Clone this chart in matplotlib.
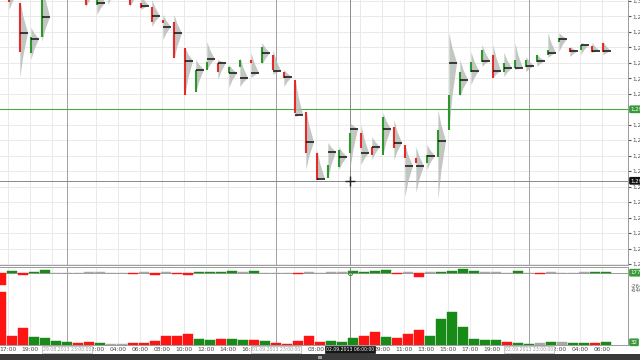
import matplotlib
matplotlib.use("Agg")
import matplotlib.pyplot as plt
from matplotlib.patches import Polygon, Rectangle
from matplotlib.transforms import blended_transform_factory

# hourly bars, slot 0 = 29.08 16:00 ... slot 55 = 03.09 06:00
opens = [1.30132, 1.30068, 1.29993, 1.29832, 1.29883, 1.30035, 1.30084, 1.30116,
         1.30051, 1.29987, 1.30019, 1.30035, 1.30068, 1.29993, 1.29980, 1.29938,
         1.29932, 1.29848, 1.29706, 1.29777, 1.29800, 1.29767, 1.29787, 1.29809,
         1.29800, 1.29825, 1.29770, 1.29745, 1.29641, 1.29509, 1.29428, 1.29464,
         1.29509, 1.29573, 1.29528, 1.29502, 1.29593, 1.29535, 1.29493, 1.29477,
         1.29496, 1.29583, 1.29696, 1.29770, 1.29803, 1.29825, 1.29770, 1.29783,
         1.29787, 1.29803, 1.29825, 1.29867, 1.29848, 1.29841, 1.29854, 1.29864]
closes = [1.30035, 1.29997, 1.29835, 1.29883, 1.30029, 1.30084, 1.30116, 1.30068,
          1.29987, 1.30035, 1.30035, 1.30051, 1.29987, 1.29977, 1.29932, 1.29929,
          1.29816, 1.29696, 1.29777, 1.29803, 1.29770, 1.29787, 1.29809, 1.29800,
          1.29851, 1.29777, 1.29751, 1.29638, 1.29509, 1.29422, 1.29470, 1.29518,
          1.29573, 1.29525, 1.29502, 1.29625, 1.29525, 1.29493, 1.29477, 1.29502,
          1.29583, 1.29696, 1.29770, 1.29803, 1.29841, 1.29751, 1.29800, 1.29809,
          1.29809, 1.29825, 1.29841, 1.29880, 1.29835, 1.29858, 1.29835, 1.29835]
highs = [1.30148, 1.30084, 1.30003, 1.29913, 1.30068, 1.30116, 1.30148, 1.30132,
         1.30068, 1.30068, 1.30051, 1.30084, 1.30084, 1.30019, 1.30003, 1.29955,
         1.29955, 1.29848, 1.29809, 1.29867, 1.29809, 1.29793, 1.29816, 1.29832,
         1.29864, 1.29841, 1.29777, 1.29751, 1.29648, 1.29518, 1.29541, 1.29528,
         1.29606, 1.29599, 1.29560, 1.29638, 1.29615, 1.29535, 1.29528, 1.29535,
         1.29648, 1.29896, 1.29809, 1.29835, 1.29858, 1.29858, 1.29832, 1.29864,
         1.29819, 1.29825, 1.29896, 1.29896, 1.29851, 1.29864, 1.29864, 1.29867]
lows = [1.29993, 1.29971, 1.29751, 1.29809, 1.29867, 1.30019, 1.30068, 1.30035,
        1.29980, 1.29955, 1.29987, 1.30019, 1.29980, 1.29971, 1.29916, 1.29874,
        1.29809, 1.29696, 1.29706, 1.29777, 1.29745, 1.29719, 1.29722, 1.29751,
        1.29793, 1.29761, 1.29722, 1.29625, 1.29454, 1.29422, 1.29428, 1.29454,
        1.29454, 1.29470, 1.29486, 1.29502, 1.29486, 1.29367, 1.29380, 1.29454,
        1.29357, 1.29583, 1.29690, 1.29728, 1.29787, 1.29751, 1.29754, 1.29777,
        1.29770, 1.29787, 1.29816, 1.29835, 1.29819, 1.29825, 1.29832, 1.29825]
pocs = [1.30068, 1.30019, 1.29896, 1.29877, 1.29948, 1.30068, 1.30100, 1.30084,
        1.30019, 1.29993, 1.30029, 1.30042, 1.30019, 1.29984, 1.29951, 1.29916,
        1.29896, 1.29806, 1.29777, 1.29812, 1.29800, 1.29767, 1.29751, 1.29767,
        1.29832, 1.29774, 1.29754, 1.29632, 1.29544, 1.29425, 1.29512, 1.29496,
        1.29586, 1.29509, 1.29528, 1.29586, 1.29541, 1.29467, 1.29467, 1.29499,
        1.29548, 1.29800, 1.29745, 1.29774, 1.29806, 1.29774, 1.29783, 1.29783,
        1.29790, 1.29806, 1.29832, 1.29877, 1.29838, 1.29858, 1.29838, 1.29838]

volume = [620, 107, 201, 95, 83, 47, 36, 24, 32, 27, 15, 15, 20, 24, 51, 110,
          110, 127, 75, 63, 71, 75, 59, 59, 51, 24, 15, 51, 103, 39, 47, 32,
          79, 110, 150, 91, 79, 134, 178, 110, 308, 391, 210, 75, 56, 59, 39, 27,
          15, 20, 36, 36, 24, 24, 24, 32]
vol_side = list("rrrggggrrg" "nnrrrrrrgg" "rggrgrrrrr" "gggrrgrrrg" "ggggggrggn" "gnggrg")
delta = [-228, 37, -43, 18, 50, -5, -5, -5, 5, 5, -3, -3, -18, 8, -43, 8,
         -25, -43, 18, 18, 18, 31, 5, 31, 3, -4, 3, -25, 4, 3, 4, 4,
         37, 18, 28, 55, -25, 8, -87, 5, 18, 37, 61, 37, 4, 4, 3, 25,
         3, -15, 8, 3, 3, 5, 20, 20]

# two-hourly time ticks (empty label = hidden under a date box)
tick_pos = [1, 3, 5, 9, 11, 13, 15, 17, 19, 21, 23, 27, 29, 31, 33, 35, 37, 39,
            41, 43, 45, 47, 51, 53, 55]
tick_lab = ["17:00", "19:00", "", "02:00", "04:00", "06:00", "08:00", "10:00",
            "12:00", "14:00", "16:00", "", "03:00", "", "", "09:00",
            "11:00", "13:00", "15:00", "17:00", "19:00", "", "02:00", "04:00",
            "06:00"]
day_pos = [6, 25, 48]
day_lab = ["29.08.2013 23:00:00", "01.09.2013 23:00:00", "02.09.2013 23:00:00"]
grid_prices = [1.3000 - 0.0005 * i for i in range(18)]
last_price = 1.29650
cursor_k, cursor_price = 32.1, 1.29419

RED, GREEN, GREY = "#e52a2a", "#2b962b", "#a8a8a8"
VRED, VGREEN = "#ff1414", "#178a17"

fig = plt.figure(figsize=(6.4, 3.6), dpi=100)
fig.patch.set_facecolor("white")
W = 628 / 640
ax = fig.add_axes([0, 1 - 265 / 360, W, 265 / 360])
axd = fig.add_axes([0, 1 - 290.7 / 360, W, 24 / 360])
axv = fig.add_axes([0, 1 - 345 / 360, W, 54.3 / 360])

xlim = (0.27, 57.36)
for a in (ax, axd, axv):
    a.set_xlim(*xlim)
    a.set_xticks(tick_pos)
    a.grid(True, axis="x", color="#e6e6e6", lw=0.6)
    a.set_axisbelow(True)
    for s in ("left", "top"):
        a.spines[s].set_visible(False)
    for s in ("right", "bottom"):
        a.spines[s].set_color("#9a9a9a")
        a.spines[s].set_linewidth(0.7)
    for d in day_pos:
        a.axvline(d + 0.36, color="#a0a0a0", lw=0.7, zorder=1)
    a.axvline(cursor_k, color="#8a8a8a", lw=0.7, zorder=1)
    a.tick_params(axis="x", length=0, labelbottom=False)

# price panel
ax.set_ylim(1.29147, 1.30003)
ax.yaxis.tick_right()
ax.set_yticks(grid_prices)
ax.set_yticklabels([f"{p:.4f}".replace(".", ",") for p in grid_prices])
ax.tick_params(axis="y", length=2, pad=1.5, labelsize=4.2, colors="#555555")
ax.grid(True, axis="y", color="#e6e6e6", lw=0.6)

pw = 0.7
for k in range(len(opens)):
    x0 = k + 0.12
    h, l, p = highs[k], lows[k], pocs[k]
    prof = Polygon([(x0, h), (x0 + pw * 0.4, (h + p) / 2), (x0 + pw, p),
                    (x0 + pw * 0.4, (p + l) / 2), (x0, l)],
                   closed=True, fc="#b3b9b3", ec="none", alpha=0.8, zorder=3)
    ax.add_patch(prof)
    col = GREEN if closes[k] >= opens[k] else RED
    ax.vlines(k + 0.05, opens[k], closes[k], color=col, lw=1.5, zorder=4)
    ax.hlines(p, x0, x0 + pw * 0.95, color="#111111", lw=1.1, zorder=5)

ax.axhline(last_price, color="#4aa84a", lw=0.8, zorder=2)
ax.axhline(cursor_price, color="#8a8a8a", lw=0.7, zorder=2)
ax.plot(cursor_k, cursor_price, marker="+", color="#222222", ms=7, mew=1.0, zorder=6)

tr = blended_transform_factory(ax.transAxes, ax.transData)
ax.text(1.004, last_price, f"{last_price:.4f}".replace(".", ","), transform=tr,
        fontsize=4, color="white", va="center", ha="left", clip_on=False, zorder=10,
        bbox=dict(boxstyle="round,pad=0.25", fc="#3a9a3a", ec="none"))
ax.text(1.004, cursor_price, f"{cursor_price:.4f}".replace(".", ","), transform=tr,
        fontsize=4, color="white", va="center", ha="left", clip_on=False, zorder=10,
        bbox=dict(boxstyle="round,pad=0.25", fc="#111111", ec="none"))

# delta panel
axd.set_ylim(-333, 111)
axd.set_yticks([])
axd.spines["top"].set_visible(True)
axd.spines["top"].set_color("#9a9a9a")
axd.spines["top"].set_linewidth(0.7)
axd.axhline(0, color="#9a9a9a", lw=0.7, zorder=1)
dcol = [GREY if abs(d) < 10 else (VGREEN if d > 0 else VRED) for d in delta]
axd.bar([k + 0.36 for k in range(len(delta))], delta, width=0.9, color=dcol,
        edgecolor=dcol, lw=0.3, zorder=3)
axd.plot(cursor_k, 0, "o", mfc="none", mec="#2b962b", ms=3, mew=0.7, zorder=5)
trd = blended_transform_factory(axd.transAxes, axd.transData)
axd.text(1.004, 0, "177", transform=trd, fontsize=4, color="white", va="center",
         ha="left", clip_on=False, zorder=10,
         bbox=dict(boxstyle="round,pad=0.25", fc="#3a9a3a", ec="none"))
axd.text(1.004, -264, "-264", transform=trd, fontsize=4, color="#555555",
         va="center", ha="left", clip_on=False)

# volume panel
axv.set_ylim(0, 640)
axv.set_yticks([])
vcol = [{"r": VRED, "g": VGREEN, "n": GREY}[s] for s in vol_side]
axv.bar([k + 0.36 for k in range(len(volume))], volume, width=0.9, color=vcol,
        edgecolor=vcol, lw=0.3, zorder=3)
axv.set_xticklabels(tick_lab)
axv.tick_params(axis="x", length=0, labelbottom=True, labelsize=4.3,
                colors="#444444", pad=1.5)
trv = blended_transform_factory(axv.transAxes, axv.transData)
axv.text(1.004, 640, "-640", transform=trv, fontsize=4, color="#555555",
         va="center", ha="left", clip_on=False)
axv.text(1.004, volume[-1], str(volume[-1]), transform=trv, fontsize=4, color="white",
         va="center", ha="left", clip_on=False, zorder=10,
         bbox=dict(boxstyle="round,pad=0.25", fc="#3a9a3a", ec="none"))

trx = blended_transform_factory(axv.transData, axv.transAxes)
for d, s in zip(day_pos, day_lab):
    axv.text(d + 0.36, -0.08, s, transform=trx, fontsize=3.3, color="#9a9a9a",
             ha="center", va="center", clip_on=False, zorder=10,
             bbox=dict(boxstyle="square,pad=0.15", fc="white", ec="#b0b0b0", lw=0.5))
axv.text(cursor_k, -0.08, "02.09.2013 06:00:00", transform=trx, fontsize=3.3,
         color="white", ha="center", va="center", clip_on=False, zorder=10,
         bbox=dict(boxstyle="square,pad=0.15", fc="#151515", ec="#151515", lw=0.5))

fig.add_artist(Rectangle((0, 0), 1, 6 / 360, transform=fig.transFigure,
                         fc="#3a3a3a", ec="none"))
fig.add_artist(Rectangle((318 / 640, 1.5 / 360), 4 / 640, 3 / 360,
                         transform=fig.transFigure, fc="#9a9a9a", ec="none"))

fig.savefig("out.png", dpi=100, facecolor="white")
